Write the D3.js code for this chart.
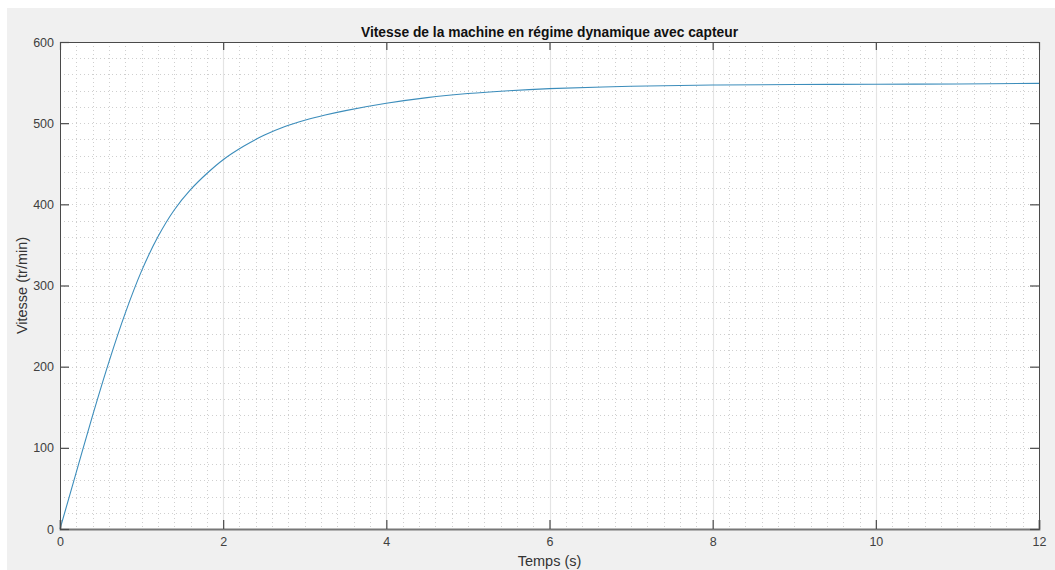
<!DOCTYPE html>
<html><head><meta charset="utf-8">
<script src="https://cdn.jsdelivr.net/npm/d3@7"></script>
<style>
body{margin:0;background:#fff;}
svg{display:block;}
text{font-family:"Liberation Sans",Arial,Helvetica,sans-serif;}
</style></head>
<body>
<svg id="c" width="1055" height="570"></svg>
<script>
const title = "Vitesse de la machine en régime dynamique avec capteur";
const xLabel = "Temps (s)";
const yLabel = "Vitesse (tr/min)";
const xTicks = [0, 2, 4, 6, 8, 10, 12];
const yTicks = [0, 100, 200, 300, 400, 500, 600];
const timeS = [0, 0.2, 0.4, 0.6, 0.8, 1.0, 1.2, 1.4, 1.6, 1.8, 2.0, 2.25, 2.5, 2.75, 3.0, 3.25, 3.5, 4.0, 4.5, 5.0, 5.5, 6.0, 7.0, 8.0, 9.0, 10.0, 11.0, 12.0];
const speed = [0, 70, 140, 206, 266, 318, 360, 393, 418, 438, 455, 471.5, 485, 495.5, 503.5, 510, 515.5, 524.5, 531.5, 536.5, 540, 542.5, 545.5, 547, 547.6, 548, 548.3, 549];

const svg = d3.select("#c");
const W = 1055, H = 570;
const L = 60, R = 1039, T = 42, B = 529;

svg.append("rect").attr("x", 7).attr("y", 8).attr("width", W - 7).attr("height", H - 8).attr("fill", "#f0f0f0");
svg.append("rect").attr("x", L).attr("y", T).attr("width", R - L).attr("height", B - T).attr("fill", "#fff");

const x = d3.scaleLinear().domain([0, 12]).range([L, R]);
const y = d3.scaleLinear().domain([0, 600]).range([B, T]);

const g = svg.append("g");
// minor grid
const xMinor = d3.range(1, 60).map(i => i * 0.2).filter((v, i) => (i + 1) % 10 !== 0);
const yMinor = d3.range(1, 30).map(i => i * 20);
g.selectAll(".xm").data(xMinor).enter().append("line")
  .attr("x1", d => Math.round(x(d)) + 0.5).attr("x2", d => Math.round(x(d)) + 0.5)
  .attr("y1", T).attr("y2", B)
  .attr("stroke", "#cfcfcf").attr("stroke-width", 1).attr("stroke-dasharray", "1,3");
g.selectAll(".ym").data(yMinor).enter().append("line")
  .attr("y1", d => Math.round(y(d)) + 0.5).attr("y2", d => Math.round(y(d)) + 0.5)
  .attr("x1", L).attr("x2", R)
  .attr("stroke", "#cfcfcf").attr("stroke-width", 1).attr("stroke-dasharray", "1,3");
// major x grid solid
g.selectAll(".xM").data(xTicks.slice(1, -1)).enter().append("line")
  .attr("x1", d => Math.round(x(d)) + 0.5).attr("x2", d => Math.round(x(d)) + 0.5)
  .attr("y1", T).attr("y2", B)
  .attr("stroke", "#e4e4e4").attr("stroke-width", 1.2);

// curve
const line = d3.line().x((d, i) => x(timeS[i])).y(d => y(d)).curve(d3.curveCatmullRom.alpha(0.5));
svg.append("path").datum(speed).attr("d", line)
  .attr("fill", "none").attr("stroke", "#3c8dbb").attr("stroke-width", 1.1);

// axes
const tickCol = "#4a4a4a";
const xb = d3.axisBottom(x).tickValues(xTicks).tickSize(-9).tickPadding(6).tickFormat(d3.format("d"));
const xt = d3.axisTop(x).tickValues(xTicks).tickSize(-8).tickFormat("");
const yl = d3.axisLeft(y).tickValues(yTicks).tickSize(-9).tickPadding(6).tickFormat(d3.format("d"));
const yr = d3.axisRight(y).tickValues(yTicks).tickSize(-9).tickFormat("");
function style(sel) {
  sel.selectAll("path").attr("stroke", tickCol).attr("stroke-width", 1);
  sel.selectAll("line").attr("stroke", tickCol).attr("stroke-width", 1.2);
  sel.selectAll("text").attr("fill", "#404040").style("font-size", "12.5px").style("font-family", '"Liberation Sans",Arial,sans-serif');
}
const gxb = svg.append("g").attr("transform", `translate(0,${B})`).call(xb); style(gxb);
gxb.select("path").attr("stroke", "#777").attr("stroke-width", 1.8);
gxb.selectAll("text").attr("dy", "0.9em");
const gxt = svg.append("g").attr("transform", `translate(0,${T})`).call(xt); style(gxt);
const gyl = svg.append("g").attr("transform", `translate(${L},0)`).call(yl); style(gyl);
const gyr = svg.append("g").attr("transform", `translate(${R},0)`).call(yr); style(gyr);

svg.append("text").attr("x", (L + R) / 2).attr("y", 37).attr("text-anchor", "middle")
  .attr("font-weight", "bold").attr("font-size", "13.8px").attr("fill", "#111").text(title);
svg.append("text").attr("x", (L + R) / 2).attr("y", 566).attr("text-anchor", "middle")
  .attr("font-size", "14.5px").attr("fill", "#333").text(xLabel);
svg.append("text").attr("transform", `translate(27,${(T + B) / 2}) rotate(-90)`).attr("text-anchor", "middle")
  .attr("font-size", "14.5px").attr("fill", "#333").text(yLabel);
</script>
</body></html>
